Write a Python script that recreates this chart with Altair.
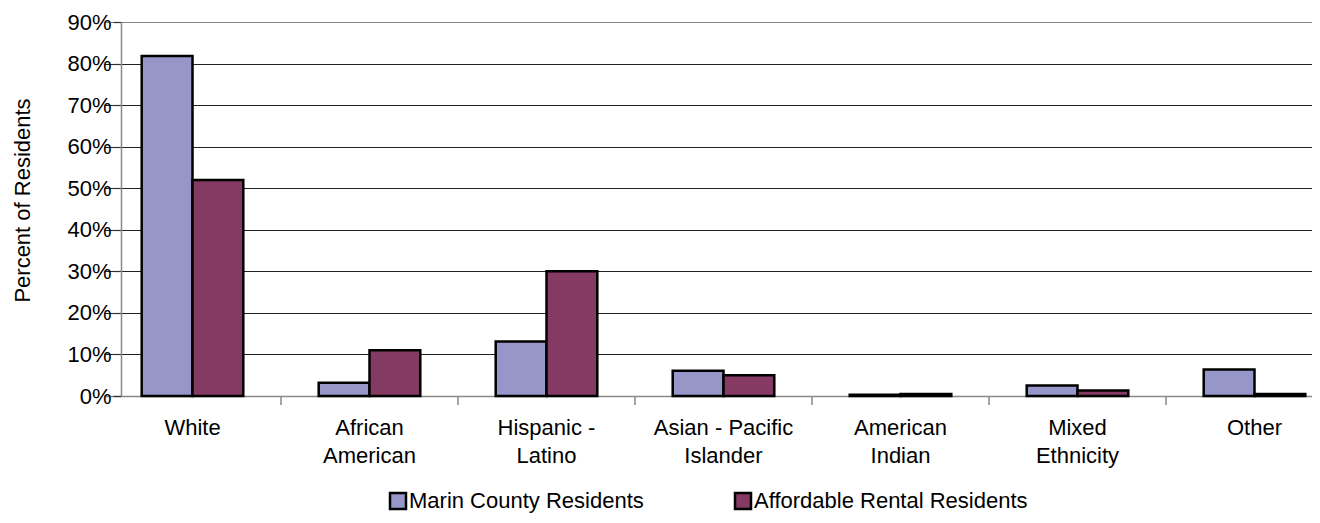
import altair as alt
import pandas as pd

categories = ["White", "African American", "Hispanic - Latino", "Asian - Pacific Islander",
              "American Indian", "Mixed Ethnicity", "Other"]
series = ["Marin County Residents", "Affordable Rental Residents"]
marin = [81.8, 3.2, 13.1, 6.1, 0.3, 2.5, 6.4]
affordable = [52.0, 11.0, 30.0, 5.0, 0.5, 1.3, 0.5]
colors = ["#9696C8", "#853A63"]
y_ticks = [0, 10, 20, 30, 40, 50, 60, 70, 80, 90]

rows = []
for i, c in enumerate(categories):
    rows.append({"cat": c, "series": series[0], "value": marin[i]})
    rows.append({"cat": c, "series": series[1], "value": affordable[i]})
df = pd.DataFrame(rows)
# tick marks sit between neighbouring categories
cat_df = pd.DataFrame({"cat": categories[:-1]})

FONT = "Liberation Sans"
FS = 22
W, H = 1191, 374
PAD_IN = 0.426
R0, R1 = -17, 1222
STEP = (R1 - R0) / len(categories)

label_expr = ("indexof(datum.label, ' ') < 0 ? datum.label : "
              "[slice(datum.label, 0, lastindexof(datum.label, ' ')), "
              "slice(datum.label, lastindexof(datum.label, ' ') + 1)]")

xscale = alt.Scale(domain=categories, range=[R0, R1],
                   paddingInner=PAD_IN, paddingOuter=PAD_IN / 2)

bars = alt.Chart(df).mark_bar(stroke="black", strokeWidth=2.5).encode(
    x=alt.X("cat:N", sort=categories, scale=xscale,
            axis=alt.Axis(title=None, labelAngle=0, labelExpr=label_expr, ticks=False,
                          domainColor="#888888", domainWidth=1.5, labelFont=FONT,
                          labelFontSize=FS, labelColor="black", labelPadding=21,
                          labelLineHeight=28, labelBaseline="top", labelLimit=400)),
    xOffset=alt.XOffset("series:N", sort=series,
                        scale=alt.Scale(domain=series, paddingInner=0, paddingOuter=0)),
    y=alt.Y("value:Q", scale=alt.Scale(domain=[0, 90], nice=False),
            axis=alt.Axis(values=y_ticks, title="Percent of Residents",
                          labelExpr="datum.value + '%'", labelFont=FONT, labelFontSize=FS,
                          labelColor="black", tickSize=8, tickColor="#333333", tickWidth=1.2,
                          labelPadding=2, domainColor="#888888", domainWidth=1.5,
                          grid=True,
                          gridColor={"condition": {"test": "datum.value == 90 || datum.value == 0",
                                                   "value": "#888888"}, "value": "#222222"},
                          gridWidth=1.2,
                          titleFont=FONT, titleFontSize=FS, titleFontWeight="normal",
                          titleColor="black", titleAngle=-90, titleX=-99, titleY=178,
                          titleAlign="center", titleBaseline="middle")),
    color=alt.Color("series:N", sort=series,
                    scale=alt.Scale(domain=series, range=colors),
                    legend=alt.Legend(title=None, orient="none", direction="horizontal",
                                      legendX=266, legendY=468, padding=0,
                                      symbolType="square", symbolSize=256,
                                      symbolStrokeColor="black", symbolStrokeWidth=2.5,
                                      labelFont=FONT, labelFontSize=FS, labelColor="black",
                                      labelLimit=400, columnPadding=86, labelOffset=0)),
)

ticks = alt.Chart(cat_df).mark_rule(color="#888888", strokeWidth=1.5,
                                    xOffset=STEP * PAD_IN / 2).encode(
    x=alt.X("cat:N", sort=categories, scale=xscale, bandPosition=1),
    y=alt.value(H),
    y2=alt.value(H + 9),
)

chart = alt.layer(bars, ticks).properties(
    width=W, height=H,
    autosize=alt.AutoSizeParams(type="none"),
    padding={"left": 113, "top": 14, "right": 0, "bottom": 119},
).configure_view(stroke="#888888", strokeWidth=1.5).configure(background="white")

chart.save("out.html", embed_options={"renderer": "svg", "actions": False})
